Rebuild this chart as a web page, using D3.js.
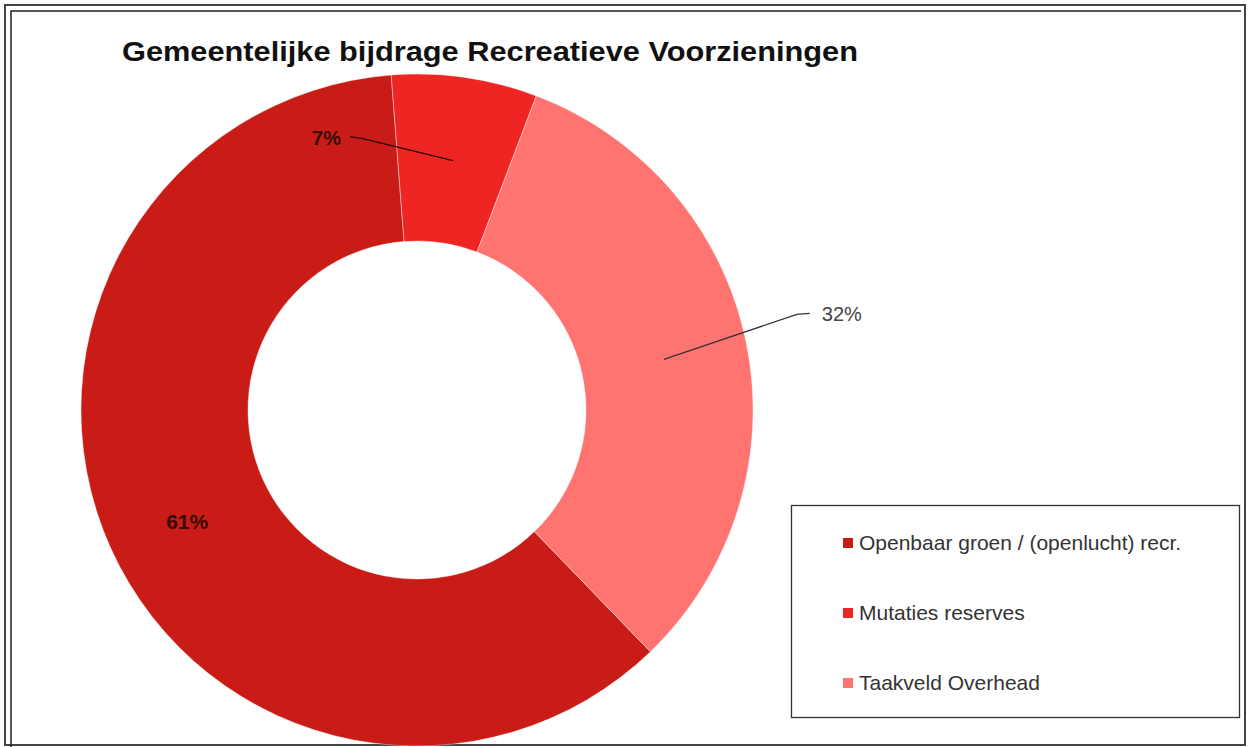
<!DOCTYPE html>
<html>
<head>
<meta charset="utf-8">
<script src="https://cdn.jsdelivr.net/npm/d3@7"></script>
<style>
  body { margin: 0; background: #fff; }
  svg { font-family: "Liberation Sans", Arial, sans-serif; }
</style>
</head>
<body>
<div class="chart"></div>
<script>
// data
let categories = ["Openbaar groen / (openlucht) recr.", "Mutaties reserves", "Taakveld Overhead"];
let shares = [61, 7, 32];
let labels = ["61%", "7%", "32%"];
let colors = ["#C91C16", "#EE2522", "#FF7371"];

let svgWidth = 1248;
let svgHeight = 747;

let svg = d3.select(".chart")
  .append("svg")
  .attr("width", svgWidth)
  .attr("height", svgHeight);

// double frame around the chart
svg.append("rect")
  .attr("x", 5).attr("y", 5)
  .attr("width", 1240).attr("height", 740)
  .attr("fill", "none").attr("stroke", "#444").attr("stroke-width", 2);
svg.append("path")
  .attr("d", "M11,747 V11 H1241")
  .attr("fill", "none").attr("stroke", "#222").attr("stroke-width", 1.5);

// title
svg.append("text")
  .attr("x", 122).attr("y", 61)
  .style("font-size", "28px")
  .style("font-weight", "bold")
  .attr("fill", "#111")
  .attr("textLength", 736)
  .attr("lengthAdjust", "spacingAndGlyphs")
  .text("Gemeentelijke bijdrage Recreatieve Voorzieningen");

let cx = 417, cy = 410;
let outerR = 336, innerR = 169;
let start = 136 * Math.PI / 180;

let pie = d3.pie().sort(null).value(d => d)
  .startAngle(start).endAngle(start + 2 * Math.PI);
let arcs = pie(shares);

let arc = d3.arc().innerRadius(innerR).outerRadius(outerR);
let mid = d3.arc().innerRadius(252).outerRadius(252);

let donut = svg.append("g").attr("transform", `translate(${cx}, ${cy})`);

donut.selectAll("path")
  .data(arcs)
  .enter()
  .append("path")
  .attr("d", arc)
  .attr("fill", (d, i) => colors[i])
  .attr("stroke", "#fff")
  .attr("stroke-opacity", 0.5)
  .attr("stroke-width", 0.8);

// data labels: 61% sits on the slice, the other two are pulled out with leader lines
let c0 = mid.centroid(arcs[0]);
donut.append("text")
  .attr("x", c0[0]).attr("y", c0[1] + 16)
  .attr("text-anchor", "middle")
  .style("font-size", "21px").style("font-weight", "bold")
  .attr("fill", "#3a0a08")
  .text(labels[0]);

let c1 = mid.centroid(arcs[1]);
donut.append("path")
  .attr("d", `M${c1[0]},${c1[1]} L${c1[0] - 90},${c1[1] - 22} L${c1[0] - 103},${c1[1] - 24}`)
  .attr("fill", "none").attr("stroke", "#2a0503").attr("stroke-width", 1.3);
donut.append("text")
  .attr("x", c1[0] - 112).attr("y", c1[1] - 16)
  .attr("text-anchor", "end")
  .style("font-size", "20px").style("font-weight", "bold")
  .attr("fill", "#3a0a08")
  .text(labels[1]);

let c2 = mid.centroid(arcs[2]);
donut.append("path")
  .attr("d", `M${c2[0]},${c2[1]} L${c2[0] + 133},${c2[1] - 45} L${c2[0] + 146},${c2[1] - 46}`)
  .attr("fill", "none").attr("stroke", "#333").attr("stroke-width", 1.3);
donut.append("text")
  .attr("x", c2[0] + 158).attr("y", c2[1] - 38)
  .style("font-size", "20px")
  .attr("fill", "#444")
  .text(labels[2]);

// legend
let legend = svg.append("g");
legend.append("rect")
  .attr("x", 791.5).attr("y", 505.5)
  .attr("width", 448).attr("height", 212)
  .attr("fill", "#fff").attr("stroke", "#333").attr("stroke-width", 1.3);

let rows = legend.selectAll(".row")
  .data(categories)
  .enter()
  .append("g")
  .attr("transform", (d, i) => `translate(843, ${543 + i * 70})`);

rows.append("rect")
  .attr("x", 0).attr("y", -5)
  .attr("width", 10).attr("height", 10)
  .attr("fill", (d, i) => colors[i]);

rows.append("text")
  .attr("x", 16).attr("y", 7)
  .style("font-size", "21px")
  .attr("fill", "#333")
  .text(d => d);
</script>
</body>
</html>
